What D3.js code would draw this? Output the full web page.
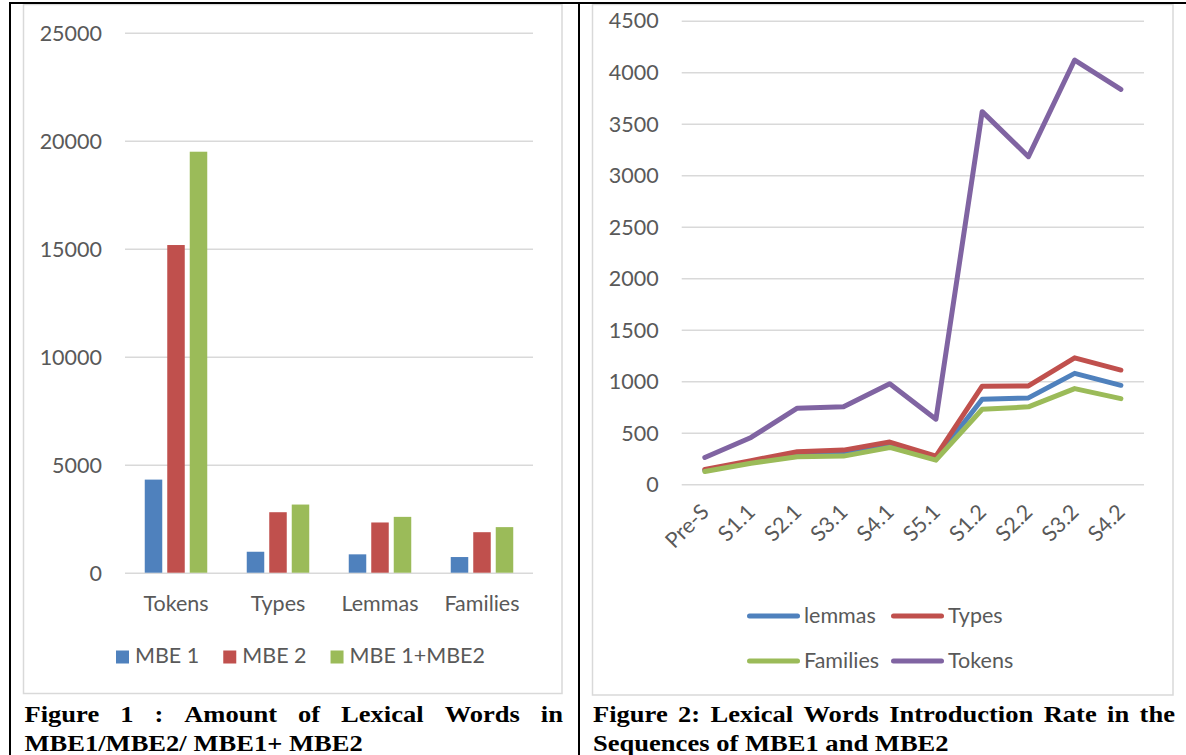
<!DOCTYPE html>
<html>
<head>
<meta charset="utf-8">
<script src="https://cdn.jsdelivr.net/npm/d3@7"></script>
<style>
  html, body { margin: 0; padding: 0; background: #ffffff; }
  svg { display: block; }
</style>
</head>
<body>
<svg id="fig" width="1186" height="755"></svg>
<script>
// ---- Figure 1 data: amount of lexical words ----
const categories = ["Tokens", "Types", "Lemmas", "Families"];
const barSeriesNames = ["MBE 1", "MBE 2", "MBE 1+MBE2"];
const mbe1 = [4310, 970, 850, 725];
const mbe2 = [15170, 2800, 2325, 1875];
const mbeBoth = [19490, 3155, 2585, 2110];
const barTicks = [0, 5000, 10000, 15000, 20000, 25000];

// ---- Figure 2 data: introduction rate per sequence ----
const sequences = ["Pre-S", "S1.1", "S2.1", "S3.1", "S4.1", "S5.1", "S1.2", "S2.2", "S3.2", "S4.2"];
const lineSeriesNames = ["lemmas", "Types", "Families", "Tokens"];
const lemmas = [135, 215, 290, 302, 385, 250, 826, 839, 1077, 961];
const types = [145, 230, 316, 332, 410, 274, 952, 955, 1228, 1109];
const families = [125, 205, 268, 274, 358, 235, 729, 752, 929, 832];
const tokens = [261, 455, 739, 752, 977, 632, 3617, 3180, 4118, 3833];
const lineTicks = [0, 500, 1000, 1500, 2000, 2500, 3000, 3500, 4000, 4500];

const barColors = ["#4F81BD", "#C0504D", "#9BBB59"];
const lineColors = ["#4F81BD", "#C0504D", "#9BBB59", "#8064A2"];
const textColor = "#595959";
const gridColor = "#d9d9d9";
const chartFont = "Lato, 'Open Sans', sans-serif";
const chartFontSize = "21.5px";

const svg = d3.select("#fig");
svg.append("rect").attr("width", 1186).attr("height", 755).attr("fill", "#fff");

// chart frames
svg.append("rect").attr("x", 23.5).attr("y", 4.5).attr("width", 538.5).attr("height", 689)
  .attr("fill", "none").attr("stroke", gridColor).attr("stroke-width", 1.5);
svg.append("rect").attr("x", 592.5).attr("y", 4.5).attr("width", 580.5).attr("height", 690.5)
  .attr("fill", "none").attr("stroke", gridColor).attr("stroke-width", 1.5);

// table rules
svg.append("line").attr("x1", 9).attr("x2", 1186).attr("y1", 3).attr("y2", 3)
  .attr("stroke", "#000").attr("stroke-width", 2);
svg.append("line").attr("x1", 10).attr("x2", 10).attr("y1", 2).attr("y2", 755)
  .attr("stroke", "#000").attr("stroke-width", 2);
svg.append("line").attr("x1", 579).attr("x2", 579).attr("y1", 2).attr("y2", 755)
  .attr("stroke", "#000").attr("stroke-width", 2);

function styleAxis(g) {
  g.select(".domain").remove();
  g.selectAll(".tick line").attr("stroke", gridColor).attr("stroke-width", 1.5);
  g.selectAll(".tick text").attr("fill", textColor)
    .style("font-family", chartFont).style("font-size", chartFontSize);
}

// ================= Figure 1: grouped bars =================
{
  const left = 125, right = 533, top = 32.7, bottom = 572.7;
  const y = d3.scaleLinear().domain([0, 25000]).range([bottom, top]);
  const x0 = d3.scaleBand().domain(categories).range([left, right]);
  const x1 = d3.scaleBand().domain(barSeriesNames).range([-31.25, 31.25]).paddingInner(0.222);
  const seriesValues = [mbe1, mbe2, mbeBoth];

  const gy = svg.append("g").attr("transform", `translate(${left},0)`)
    .call(d3.axisLeft(y).tickValues(barTicks).tickFormat(d3.format("d"))
      .tickSize(-(right - left)).tickPadding(23));
  styleAxis(gy);
  gy.selectAll(".tick text").attr("dy", "0.34em");

  const groups = svg.append("g").selectAll("g").data(categories).join("g")
    .attr("transform", c => `translate(${x0(c) + x0.bandwidth() / 2},0)`);
  groups.selectAll("rect")
    .data((c, i) => barSeriesNames.map((s, k) => ({ s, k, v: seriesValues[k][i] })))
    .join("rect")
    .attr("x", d => x1(d.s))
    .attr("width", x1.bandwidth())
    .attr("y", d => y(d.v))
    .attr("height", d => y(0) - y(d.v))
    .attr("fill", d => barColors[d.k]);

  const gx = svg.append("g").attr("transform", `translate(0,${bottom})`)
    .call(d3.axisBottom(x0).tickSize(0).tickPadding(23));
  styleAxis(gx);

  // legend
  const leg = svg.append("g");
  let lx = 116;
  barSeriesNames.forEach((name, k) => {
    leg.append("rect").attr("x", lx).attr("y", 650.5).attr("width", 13).attr("height", 13)
      .attr("fill", barColors[k]);
    const t = leg.append("text").attr("x", lx + 19).attr("y", 663.3).text(name)
      .attr("fill", textColor).style("font-family", chartFont).style("font-size", chartFontSize);
    lx += 19 + t.node().getComputedTextLength() + 24;
  });
}

// ================= Figure 2: lines =================
{
  const left = 681.7, right = 1144, top = 20.67, bottom = 484.33;
  const y = d3.scaleLinear().domain([0, 4500]).range([bottom, top]);
  const x = d3.scalePoint().domain(sequences).range([left, right]).padding(0.5);
  const seriesValues = [lemmas, types, families, tokens];

  const gy = svg.append("g").attr("transform", `translate(${left},0)`)
    .call(d3.axisLeft(y).tickValues(lineTicks).tickFormat(d3.format("d"))
      .tickSize(-(right - left)).tickPadding(23));
  styleAxis(gy);
  gy.selectAll(".tick text").attr("dy", "0.34em");

  const gx = svg.append("g").attr("transform", `translate(0,${bottom})`)
    .call(d3.axisBottom(x).tickSize(0));
  styleAxis(gx);
  gx.selectAll(".tick text")
    .attr("y", 0).attr("dy", 0)
    .attr("text-anchor", "end")
    .attr("transform", "translate(5,29) rotate(-45)");

  const line = d3.line().x((d, i) => x(sequences[i])).y(d => y(d));
  svg.append("g").selectAll("path").data(seriesValues).join("path")
    .attr("d", d => line(d))
    .attr("fill", "none")
    .attr("stroke", (d, k) => lineColors[k])
    .attr("stroke-width", 5)
    .attr("stroke-linejoin", "round")
    .attr("stroke-linecap", "round");

  // legend in two rows
  const cols = [747, 891];
  const rows = [616, 661];
  const leg = svg.append("g");
  lineSeriesNames.forEach((name, k) => {
    const cx = cols[k % 2], cy = rows[Math.floor(k / 2)];
    leg.append("line").attr("x1", cx + 2.5).attr("x2", cx + 50.5).attr("y1", cy).attr("y2", cy)
      .attr("stroke", lineColors[k]).attr("stroke-width", 5).attr("stroke-linecap", "round");
    leg.append("text").attr("x", cx + 57).attr("y", cy + 7).text(name)
      .attr("fill", textColor).style("font-family", chartFont).style("font-size", chartFontSize);
  });
}

// ================= Captions =================
function captionLine(words, x0, baseline, width, justify) {
  const sx = 1.13;
  const g = svg.append("g");
  const nodes = words.map(w => g.append("text").text(w)
    .style("font-family", "'Liberation Serif', 'Times New Roman', serif")
    .style("font-weight", "bold").style("font-size", "23.5px").attr("fill", "#000"));
  const widths = nodes.map(n => n.node().getComputedTextLength() * sx);
  const total = d3.sum(widths);
  const gap = justify ? (width - total) / (words.length - 1) : 23.5 * 0.25 * sx;
  let cx = x0;
  nodes.forEach((n, i) => {
    n.attr("transform", `translate(${cx},${baseline}) scale(${sx},1)`);
    cx += widths[i] + gap;
  });
}
captionLine(["Figure", "1", ":", "Amount", "of", "Lexical", "Words", "in"], 24.5, 721.5, 538.5, true);
captionLine(["MBE1/MBE2/", "MBE1+", "MBE2"], 24.5, 751, 0, false);
captionLine(["Figure", "2:", "Lexical", "Words", "Introduction", "Rate", "in", "the"], 593, 721.5, 582, true);
captionLine(["Sequences", "of", "MBE1", "and", "MBE2"], 593, 751, 0, false);
</script>
</body>
</html>
